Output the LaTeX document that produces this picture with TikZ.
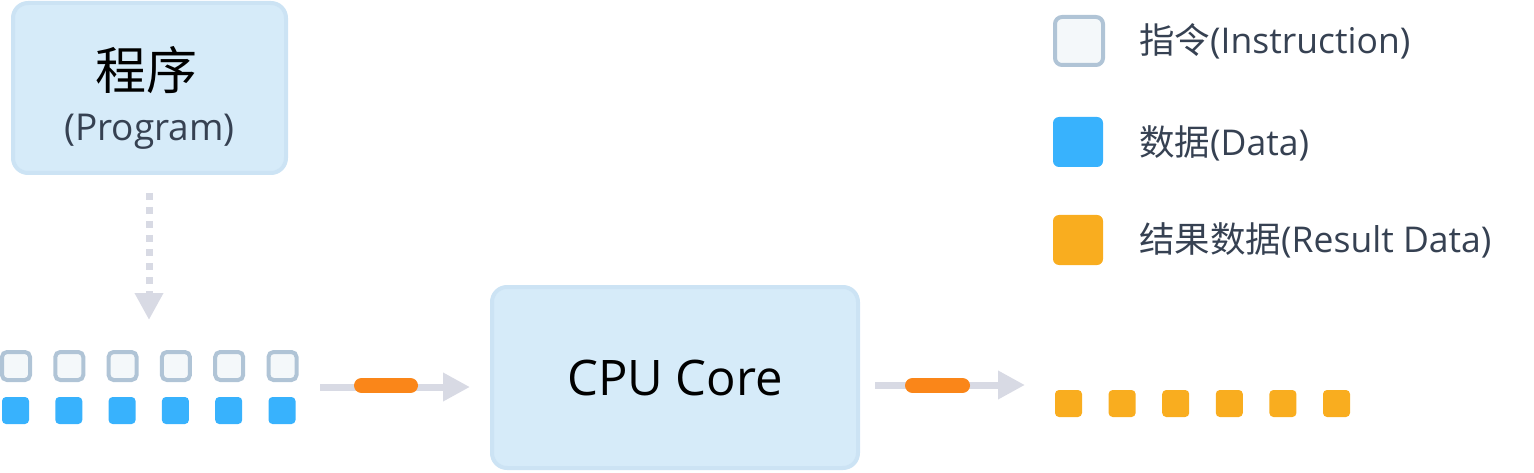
\documentclass[tikz,border=0pt]{standalone}
\usepackage{fontspec}
\setmainfont{Open Sans}
\newfontfamily\cjk{Noto Sans CJK SC}
\usetikzlibrary{arrows.meta}
\definecolor{boxfill}{HTML}{D6EBF9}
\definecolor{boxline}{HTML}{CCE3F4}
\definecolor{flowgray}{HTML}{D8DAE4}
\definecolor{pillorange}{HTML}{FA8619}
\definecolor{insfill}{HTML}{F4F8FA}
\definecolor{insline}{HTML}{B0C4D6}
\definecolor{datablue}{HTML}{38B2FD}
\definecolor{resorange}{HTML}{F9AD1F}
\definecolor{txt}{HTML}{364152}
\tikzset{
  bigbox/.style={draw=boxline, fill=boxfill, line width=4pt, rounded corners=15pt, inner sep=0pt},
  insbox/.style={draw=insline, fill=insfill, line width=4pt, rounded corners=5pt, inner sep=0pt, minimum size=28pt},
  databox/.style={fill=datablue, rounded corners=4pt, inner sep=0pt, minimum size=27pt},
  resbox/.style={fill=resorange, rounded corners=4pt, inner sep=0pt, minimum size=27pt},
  leginsbox/.style={draw=insline, fill=insfill, line width=4pt, rounded corners=7pt, inner sep=0pt, minimum size=48pt},
  legdatabox/.style={fill=datablue, rounded corners=6pt, inner sep=0pt, minimum size=50pt},
  legresbox/.style={fill=resorange, rounded corners=6pt, inner sep=0pt, minimum size=50pt},
  legtext/.style={anchor=west, inner sep=0pt, text=txt, font=\fontsize{35.5}{42}\selectfont},
  flow/.style={draw=flowgray, line width=7pt, -{Triangle[length=27pt,width=27pt]}},
  dotflow/.style={draw=flowgray, line width=7pt, dash pattern=on 7pt off 7pt, -{Triangle[length=27pt,width=27pt]}},
  pill/.style={draw=pillorange, line width=15pt, line cap=round},
}
\begin{document}
\begin{tikzpicture}[x=1pt,y=-1pt]
\useasboundingbox (0,0) rectangle (1534,473);
% program box
\node[bigbox, minimum width=273pt, minimum height=170pt] (prog) at (149.5,88) {};
\node[inner sep=0pt, font=\cjk\fontsize{51}{60}\selectfont] (progzh) at (146,70) {程序};
\node[inner sep=0pt, text=txt, font=\fontsize{37}{44}\selectfont] (progen) at (149.5,132) {(Program)};
% dotted arrow
\coordinate (dtip) at (149,320);
\draw[dotflow, shorten <=18pt] (prog.south -| dtip) -- (dtip);
% instruction and data rows
\foreach \i in {0,...,5} {
  \node[insbox] (ins\i) at ({16+53.3*\i},366) {};
  \node[databox] (dat\i) at ({15.5+53.3*\i},410.5) {};
  \node[resbox] (res\i) at ({1068.5+53.6*\i},403.5) {};
}
% CPU core
\node[bigbox, minimum width=366pt, minimum height=181pt, font=\fontsize{49}{58}\selectfont] (cpu) at (675,377.5) {CPU Core};
% arrows
\coordinate (in1) at (320,387);
\coordinate (tip1) at (470,387);
\draw[flow] (in1) -- (tip1);
\coordinate (p1a) at (361.5,385.5);
\coordinate (p1b) at (410.5,385.5);
\draw[pill] (p1a) -- (p1b);
\coordinate (in2) at (875,385);
\coordinate (tip2) at (1025,385);
\draw[flow] (in2) -- (tip2);
\coordinate (p2a) at (912.5,385.5);
\coordinate (p2b) at (962.5,385.5);
\draw[pill] (p2a) -- (p2b);
% legend
\node[leginsbox] (legins) at (1079,41) {};
\node[legdatabox] (legdat) at (1078,142) {};
\node[legresbox] (legres) at (1078,240) {};
\node[legtext] (legtins) at (1139,41.5) {{\cjk 指令}(Instruction)};
\node[legtext] (legtdat) at (1139,143) {{\cjk 数据}(Data)};
\node[legtext] (legtres) at (1139,240) {{\cjk 结果数据}(Result Data)};
\end{tikzpicture}
\end{document}
